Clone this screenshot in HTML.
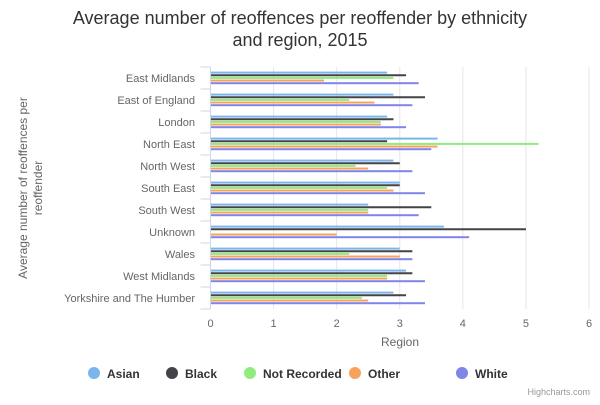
<!DOCTYPE html>
<html><head><meta charset="utf-8"><style>
body{margin:0;background:#fff;font-family:"Liberation Sans",sans-serif}
svg text{font-family:"Liberation Sans",sans-serif}
</style></head><body>
<svg id="c" width="600" height="400">
<rect width="600" height="400" fill="#fff"/>
<text x="300" y="24" text-anchor="middle" font-size="18" fill="#333">Average number of reoffences per reoffender by ethnicity</text>
<text x="300" y="46" text-anchor="middle" font-size="18" fill="#333">and region, 2015</text>
<g id="grid"></g><g id="bars"></g><g id="axes"></g>
<text transform="translate(27,188) rotate(-90)" text-anchor="middle" font-size="12" fill="#666">Average number of reoffences per</text>
<text transform="translate(42,188) rotate(-90)" text-anchor="middle" font-size="12" fill="#666">reoffender</text>
<text x="400" y="346" text-anchor="middle" font-size="12" fill="#666">Region</text>
<g id="legend"></g>
<text x="590" y="395" text-anchor="end" font-size="9" fill="#999">Highcharts.com</text>
</svg>
<script>
const categories=["East Midlands","East of England","London","North East","North West","South East","South West","Unknown","Wales","West Midlands","Yorkshire and The Humber"];
const seriesNames=["Asian","Black","Not Recorded","Other","White"];
const asian=[2.8,2.9,2.8,3.6,2.9,3.0,2.5,3.7,3.0,3.1,2.9];
const black=[3.1,3.4,2.9,2.8,3.0,3.0,3.5,5.0,3.2,3.2,3.1];
const notRecorded=[2.9,2.2,2.7,5.2,2.3,2.8,2.5,0,2.2,2.8,2.4];
const other=[1.8,2.6,2.7,3.6,2.5,2.9,2.5,2.0,3.0,2.8,2.5];
const white=[3.3,3.2,3.1,3.5,3.2,3.4,3.3,4.1,3.2,3.4,3.4];
const xTicks=[0,1,2,3,4,5,6];
const colors=["#7cb5ec","#434348","#90ed7d","#f7a35c","#8085e9"];
const series=[asian,black,notRecorded,other,white];
const NS="http://www.w3.org/2000/svg";
const L=210.5,R=589,T=67,B=309,band=(B-T)/categories.length;
const x=v=>L+v*(R-L)/6;
function mk(tag,attrs,parent,txt){const e=document.createElementNS(NS,tag);for(const k in attrs)e.setAttribute(k,attrs[k]);if(txt!==undefined)e.textContent=txt;document.getElementById(parent).appendChild(e);return e;}
xTicks.forEach(t=>{
 if(t>0){const g=mk("line",{x1:x(t),x2:x(t),y1:T,y2:B,stroke:"#e6e6e6"},"grid");
 
 }
 const l=mk("text",{x:x(t),y:327,"text-anchor":"middle","font-size":11,fill:"#666"},"axes",t);
 
 
});
const ax=mk("line",{x1:L,x2:L,y1:T,y2:B,stroke:"#ccd6eb"},"axes");


for(let i=0;i<=categories.length;i++){
 const tk=mk("line",{x1:L-10,x2:L,y1:T+i*band,y2:T+i*band,stroke:"#ccd6eb"},"axes");
 
 
}
categories.forEach((c,i)=>{
 const t=mk("text",{x:195,y:T+i*band+band/2+4,"text-anchor":"end","font-size":11,fill:"#666"},"axes",c);
 
 
 series.forEach((s,j)=>{
  const y0=T+i*band+4.6+j*2.65;
  const r=mk("rect",{x:L,y:y0,width:Math.max(0,x(s[i])-L),height:2,fill:colors[j]},"bars");
  
  
 });
});
const lx=[94,172,250,355,462];
seriesNames.forEach((n,j)=>{
 const c=mk("circle",{cx:lx[j],cy:373,r:6,fill:colors[j]},"legend");
 
 
 const t=mk("text",{x:lx[j]+13,y:378,"font-size":12,"font-weight":"bold",fill:"#333"},"legend",n);
 
 
});
</script>
</body></html>
